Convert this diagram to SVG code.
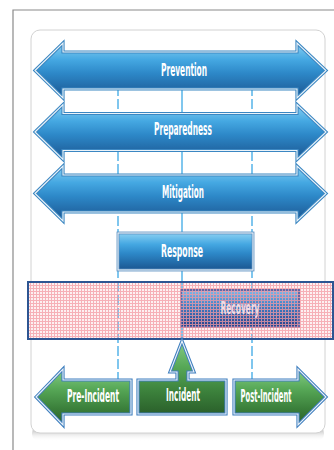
<svg xmlns="http://www.w3.org/2000/svg" width="334" height="450" viewBox="0 0 334 450">
<defs>
<linearGradient id="gBlue" x1="0" y1="0" x2="0" y2="1">
<stop offset="0" stop-color="#8ad0f2"/>
<stop offset="0.3" stop-color="#45a8e2"/>
<stop offset="0.55" stop-color="#2d88c8"/>
<stop offset="1" stop-color="#1b5590"/>
</linearGradient>
<linearGradient id="gGreen" x1="0" y1="0" x2="0" y2="1">
<stop offset="0" stop-color="#86cc86"/>
<stop offset="0.35" stop-color="#57a857"/>
<stop offset="0.7" stop-color="#3b803b"/>
<stop offset="1" stop-color="#2a5f2a"/>
</linearGradient>
<linearGradient id="gRec" x1="0" y1="0" x2="0" y2="1">
<stop offset="0" stop-color="#80bcea"/>
<stop offset="0.4" stop-color="#4383c8"/>
<stop offset="1" stop-color="#26428a"/>
</linearGradient>
<linearGradient id="gShadow" x1="0" y1="0" x2="0" y2="1">
<stop offset="0" stop-color="#7a7a7a" stop-opacity="0.8"/>
<stop offset="1" stop-color="#ffffff" stop-opacity="0"/>
</linearGradient>
<pattern id="pink" width="3" height="3" patternUnits="userSpaceOnUse">
<rect x="0" y="0" width="3" height="1" fill="#f49aa4"/>
<rect x="0" y="0" width="1" height="3" fill="#f49aa4"/>
</pattern>
</defs>
<style>
.arrB{fill:url(#gBlue);stroke:#3b87c2;stroke-width:3.2;stroke-linejoin:miter}
.arrG{fill:url(#gGreen);stroke:#3f7fbf;stroke-width:3.2;stroke-linejoin:miter}
.hl{fill:none;stroke:#ffffff;stroke-width:1.1;stroke-opacity:0.9}
.lbl{fill:#ffffff;font-family:"DejaVu Sans Condensed","Liberation Sans",sans-serif;font-size:17px;font-weight:bold;text-anchor:middle}
.vl{stroke:#56b4e9;stroke-width:1.5;fill:none}
</style>
<rect x="0" y="0" width="334" height="450" fill="#ffffff"/>
<path d="M13,450 L13,10 L334,10" fill="none" stroke="#8a8a8a" stroke-width="1.2"/>
<rect x="32" y="426" width="292" height="15" rx="7" fill="url(#gShadow)"/>
<rect x="31" y="30" width="294" height="403" rx="9" fill="#ffffff" stroke="#d2d2d2" stroke-width="1"/>

<g id="connectors">
<line class="vl" x1="118" y1="60" x2="118" y2="380" stroke-dasharray="10 3"/>
<line class="vl" x1="182" y1="60" x2="182" y2="342"/>
<line class="vl" x1="252" y1="60" x2="252" y2="380" stroke-dasharray="10 3"/>
</g>

<g id="prevention">
<path class="arrB" d="M35,70.5 L63,43 L63,52 L297,52 L297,43 L326,70.5 L297,98 L297,89 L63,89 L63,98 Z"/>
<path class="hl" d="M35,70.5 L63,43 L63,52 L297,52 L297,43 L326,70.5 L297,98 L297,89 L63,89 L63,98 Z"/>
<text class="lbl" x="184" y="76" textLength="46" lengthAdjust="spacingAndGlyphs">Prevention</text>
</g>
<g id="preparedness">
<path class="arrB" d="M35,132 L63,104.5 L63,113.5 L297,113.5 L297,104.5 L326,132 L297,159.5 L297,150.5 L63,150.5 L63,159.5 Z"/>
<path class="hl" d="M35,132 L63,104.5 L63,113.5 L297,113.5 L297,104.5 L326,132 L297,159.5 L297,150.5 L63,150.5 L63,159.5 Z"/>
<text class="lbl" x="183" y="135" textLength="58" lengthAdjust="spacingAndGlyphs">Preparedness</text>
</g>
<g id="mitigation">
<path class="arrB" d="M35,193.5 L63,166 L63,175 L297,175 L297,166 L326,193.5 L297,221 L297,212 L63,212 L63,221 Z"/>
<path class="hl" d="M35,193.5 L63,166 L63,175 L297,175 L297,166 L326,193.5 L297,221 L297,212 L63,212 L63,221 Z"/>
<text class="lbl" x="183" y="198" textLength="42" lengthAdjust="spacingAndGlyphs">Mitigation</text>
</g>
<g id="response">
<rect x="118" y="233" width="135" height="37" fill="url(#gBlue)" stroke="#5a8fc0" stroke-width="2.8"/>
<rect x="118" y="233" width="135" height="37" class="hl"/>
<text class="lbl" x="182" y="257" textLength="42" lengthAdjust="spacingAndGlyphs">Response</text>
</g>

<g id="recovery-band">
<rect x="28" y="282" width="305" height="57" fill="#fdf0f1"/>
<line class="vl" x1="118" y1="282" x2="118" y2="339" stroke-dasharray="10 3"/>
<line class="vl" x1="182" y1="282" x2="182" y2="339"/>
<line class="vl" x1="252" y1="282" x2="252" y2="339" stroke-dasharray="10 3"/>
<rect x="181" y="290" width="118" height="37" fill="url(#gRec)" stroke="#5f6aa8" stroke-width="2"/>
<rect x="28" y="282" width="305" height="57" fill="url(#pink)" fill-opacity="0.75"/>
<rect x="28" y="282" width="305" height="57" fill="none" stroke="#2d5592" stroke-width="2"/>
</g>
<g id="recovery">
<text class="lbl" x="240" y="314" textLength="39" lengthAdjust="spacingAndGlyphs" style="fill:#f0dce4">Recovery</text>
</g>

<g id="pre-incident">
<path class="arrG" d="M36,397 L63,369 L63,380 L131,380 L131,414 L63,414 L63,425 Z"/>
<path class="hl" d="M36,397 L63,369 L63,380 L131,380 L131,414 L63,414 L63,425 Z"/>
<text class="lbl" x="93" y="402" textLength="52" lengthAdjust="spacingAndGlyphs">Pre-Incident</text>
</g>
<g id="incident">
<path class="arrG" d="M138,380 L177,380 L177,372 L170,372 L182,341 L194,372 L188,372 L188,380 L226,380 L226,414 L138,414 Z"/>
<path class="hl" d="M138,380 L177,380 L177,372 L170,372 L182,341 L194,372 L188,372 L188,380 L226,380 L226,414 L138,414 Z"/>
<text class="lbl" x="183" y="401" textLength="34" lengthAdjust="spacingAndGlyphs">Incident</text>
</g>
<g id="post-incident">
<path class="arrG" d="M234,380 L298,380 L298,369 L326,397 L298,425 L298,414 L234,414 Z"/>
<path class="hl" d="M234,380 L298,380 L298,369 L326,397 L298,425 L298,414 L234,414 Z"/>
<text class="lbl" x="266" y="402" textLength="51" lengthAdjust="spacingAndGlyphs">Post-Incident</text>
</g>
</svg>
